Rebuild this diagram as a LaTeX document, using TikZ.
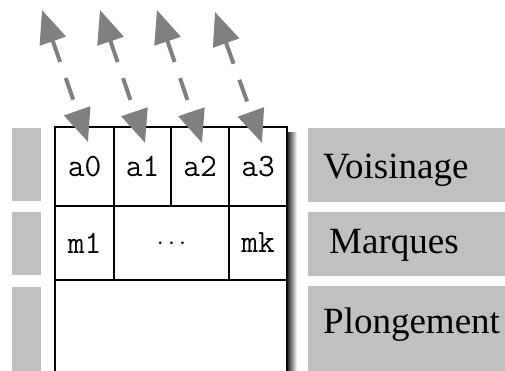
\documentclass[tikz,border=0pt]{standalone}
\usepackage{fontspec}
\setmainfont{Liberation Serif}
\usetikzlibrary{arrows.meta}
\definecolor{bandgray}{RGB}{192,192,192}
\definecolor{arrowgray}{RGB}{128,128,128}
\begin{document}
\begin{tikzpicture}[x=1pt,y=-1pt,
  band/.style={fill=bandgray,draw=none},
  cell/.style={draw=black,line width=2pt,inner sep=0pt,
    font=\ttfamily\fontsize{32.5}{32.5}\selectfont},
  lab/.style={anchor=base west,inner sep=0pt,font=\fontsize{37}{37}\selectfont},
  link/.style={draw=arrowgray,line width=4pt,dash pattern=on 23pt off 17pt,
    {Triangle[length=33pt,width=27pt]}-{Triangle[length=33pt,width=27pt]}}
]
\useasboundingbox (0,0) rectangle (505,371);
% left bands
\fill[band] (12,128) rectangle (41,201);
\fill[band] (12,212) rectangle (41,275);
\fill[band] (12,287) rectangle (41,380);
% right bands
\fill[band] (308,128) rectangle (505,202);
\fill[band] (308,212) rectangle (505,276);
\fill[band] (308,286) rectangle (505,380);
% shadow
\shade[left color=black!80,right color=white] (288,133) rectangle (297,380);
% cells
\node[cell,minimum width=59pt,minimum height=79pt] (a0) at (84.5,166.5) {a0};
\node[cell,minimum width=57pt,minimum height=79pt] (a1) at (142.5,166.5) {a1};
\node[cell,minimum width=58pt,minimum height=79pt] (a2) at (200,166.5) {a2};
\node[cell,minimum width=58pt,minimum height=79pt] (a3) at (258,166.5) {a3};
\node[cell,minimum width=59pt,minimum height=74pt] (m1) at (84.5,243) {m1};
\node[cell,minimum width=115pt,minimum height=74pt] (mdots) at (171.5,243) {};
\node[inner sep=0pt,font=\fontsize{27}{27}\selectfont] (dots) at (171.5,244) {$\cdots$};
\node[cell,minimum width=58pt,minimum height=74pt] (mk) at (258,243) {mk};
\node[cell,minimum width=232pt,minimum height=110pt] (plong) at (171,335) {};
% labels
\node[lab] (voisinage) at (323,179) {Voisinage};
\node[lab] (marques) at (329,253) {Marques};
\node[lab] (plongement) at (323,333) {Plongement};
% arrows
\coordinate (t0) at (42,10);  \coordinate (b0) at (88,142);
\coordinate (t1) at (100,10); \coordinate (b1) at (145,143);
\coordinate (t2) at (157,10); \coordinate (b2) at (202,143);
\coordinate (t3) at (215,12); \coordinate (b3) at (262,143);
\draw[link] (t0) -- (b0);
\draw[link] (t1) -- (b1);
\draw[link] (t2) -- (b2);
\draw[link] (t3) -- (b3);
\end{tikzpicture}
\end{document}
